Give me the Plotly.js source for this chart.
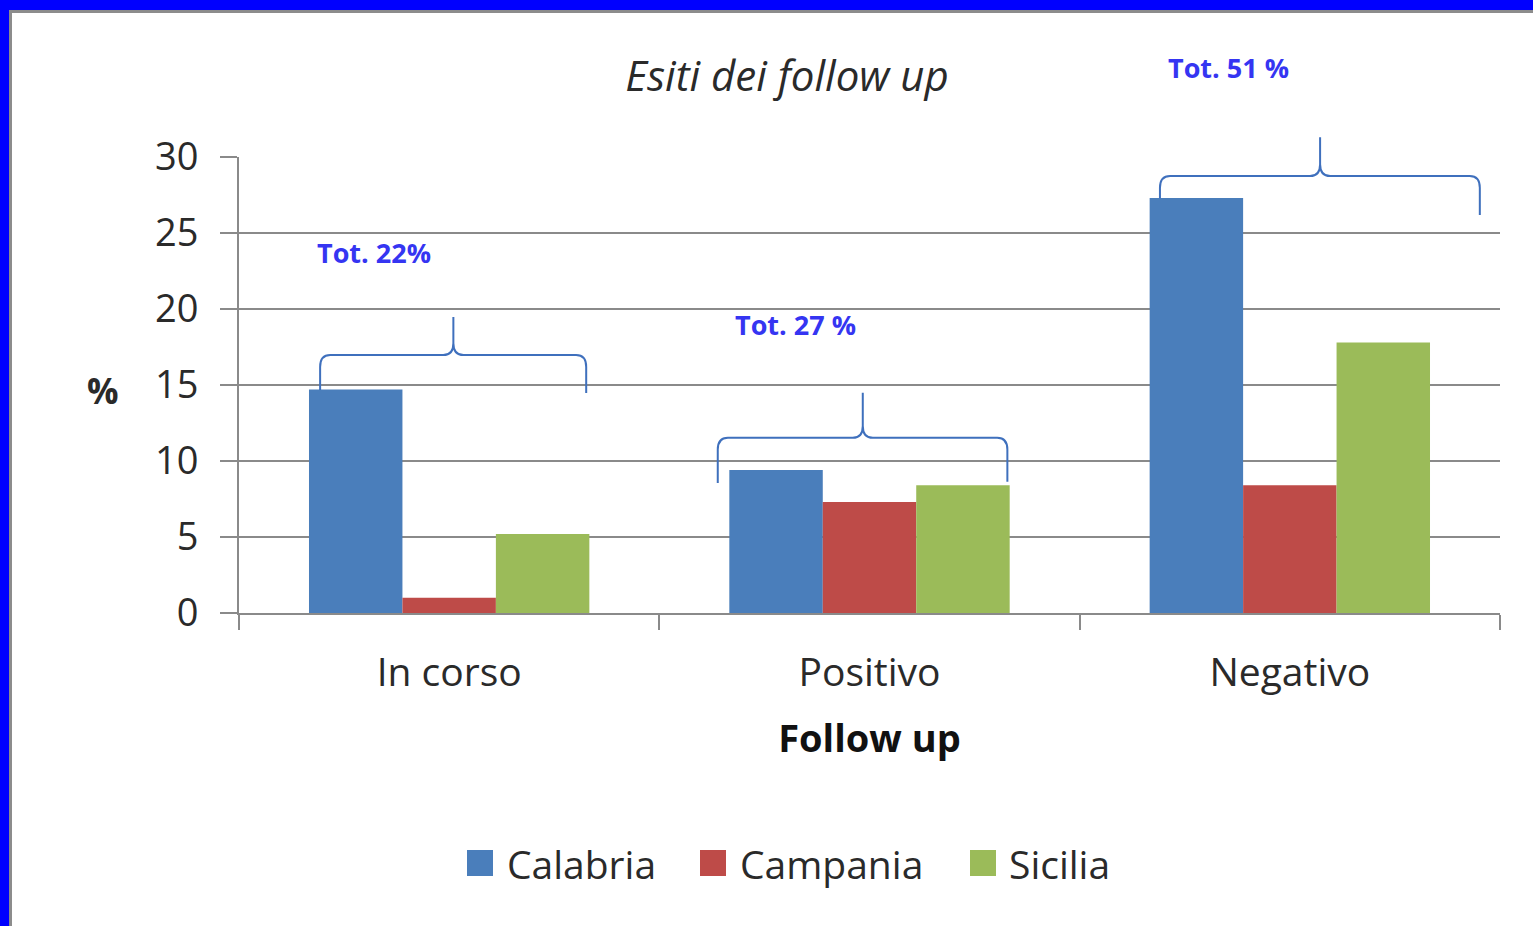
<!DOCTYPE html>
<html><head><meta charset="utf-8">
<script src="https://cdn.plot.ly/plotly-3.0.1.min.js"></script>
<style>
html,body{margin:0;padding:0;background:#fff;overflow:hidden}
#chart{width:1533px;height:926px;position:absolute;left:0;top:0}
.fr{position:absolute;pointer-events:none}
</style></head><body>
<div id="chart"></div>
<div class="fr" style="left:0;top:0;width:1533px;height:10px;background:#0000ff"></div>
<div class="fr" style="left:0;top:0;width:9px;height:926px;background:#0000ff"></div>
<div class="fr" style="left:9px;top:10px;width:1524px;height:3px;background:#8c8c8c"></div>
<div class="fr" style="left:9px;top:10px;width:3px;height:916px;background:#8c8c8c"></div>
<script>
// ---- data ----
const categories = ['In corso', 'Positivo', 'Negativo'];
const regions = ['Calabria', 'Campania', 'Sicilia'];
const calabria = [14.7, 9.4, 27.3];
const campania = [1.0, 7.3, 8.4];
const sicilia = [5.2, 8.4, 17.8];
const yTicks = [0, 5, 10, 15, 20, 25, 30];
const totals = ['Tot. 22%', 'Tot. 27 %', 'Tot. 51 %'];

// ---- style ----
const colors = ['#4a7ebb', '#be4b48', '#9bbb59'];
const FONT = 'Open Sans, Lato, sans-serif';
const TXT = '#2a2a2a';
const GRID = '#8a8a8a';
const BRACE = '#3f70bd';
const TOTC = '#3535f2';

// plot area in pixels
const W = 1533, H = 926, L = 239, R = 33, T = 157, B = 313;
const PW = W - L - R, PH = H - T - B;
const pxX = p => (p - L) / PW;
const pxY = p => (H - B - p) / PH;
// category / value -> paper
const cX = (i, d) => (i + d + 0.5) / categories.length;
const vY = v => v / 30;

// brace geometry (offsets from category centre, value units)
const braces = [
  {xl: -0.307, xr: 0.326, xt: 0.010, yl: 14.67, yr: 14.47, yh: 16.97, yt: 19.47},
  {xl: -0.361, xr: 0.328, xt: -0.016, yl: 8.55, yr: 8.63, yh: 11.53, yt: 14.49},
  {xl: -0.309, xr: 0.452, xt: 0.072, yl: 27.28, yr: 26.18, yh: 28.75, yt: 31.3}
];
const totPos = [
  {dx: -0.179, y: 23.75},
  {dx: -0.176, y: 18.95},
  {dx: -0.145, y: 35.86}
];

function bracePath(i, b) {
  const rx = 0.008, ry = 0.026;
  const xl = cX(i, b.xl), xr = cX(i, b.xr), xt = cX(i, b.xt);
  const yl = vY(b.yl), yr = vY(b.yr), yh = vY(b.yh), yt = vY(b.yt);
  return `M${xl},${yl} L${xl},${yh - ry} Q${xl},${yh} ${xl + rx},${yh} ` +
         `L${xt - rx},${yh} Q${xt},${yh} ${xt},${yh + ry} L${xt},${yt} ` +
         `M${xt},${yh + ry} Q${xt},${yh} ${xt + rx},${yh} ` +
         `L${xr - rx},${yh} Q${xr},${yh} ${xr},${yh - ry} L${xr},${yr}`;
}

const series = [calabria, campania, sicilia];
const traces = regions.map((name, k) => ({
  type: 'bar', name: name, x: categories, y: series[k],
  marker: {color: colors[k], line: {width: 0}},
  showlegend: false, hoverinfo: 'x+y+name'
}));

const shapes = [];
const annotations = [];
braces.forEach((b, i) => shapes.push({
  type: 'path', xref: 'paper', yref: 'paper', path: bracePath(i, b),
  line: {color: BRACE, width: 2}
}));
totals.forEach((t, i) => annotations.push({
  xref: 'paper', yref: 'paper', x: cX(i, totPos[i].dx), y: vY(totPos[i].y),
  text: t, showarrow: false, xanchor: 'center', yanchor: 'middle',
  font: {family: FONT, size: 27, color: TOTC, weight: 'bold'}
}));
// y-axis label "%"
annotations.push({
  xref: 'paper', yref: 'paper', x: pxX(103), y: pxY(390), text: '%', showarrow: false,
  xanchor: 'center', yanchor: 'middle', font: {family: FONT, size: 35, color: TXT, weight: 'bold'}
});
// manual legend
const swLeft = [467, 700, 970];
const txLeft = [505, 738, 1007];
regions.forEach((name, k) => {
  shapes.push({type: 'rect', xref: 'paper', yref: 'paper',
    x0: pxX(swLeft[k]), x1: pxX(swLeft[k] + 26), y0: pxY(876), y1: pxY(850),
    fillcolor: colors[k], line: {width: 0}});
  annotations.push({xref: 'paper', yref: 'paper', x: pxX(txLeft[k]), y: pxY(863),
    text: name, showarrow: false, xanchor: 'left', yanchor: 'middle',
    font: {family: FONT, size: 39, color: TXT}});
});

const layout = {
  width: W, height: H,
  margin: {l: L, r: R, t: T, b: B, pad: 0},
  paper_bgcolor: '#ffffff', plot_bgcolor: '#ffffff',
  font: {family: FONT, color: TXT},
  title: {text: 'Esiti dei follow up', xref: 'container', yref: 'container',
    x: 787 / W, y: 1 - 76 / H, xanchor: 'center', yanchor: 'middle',
    font: {family: FONT, size: 42, style: 'italic', color: TXT}},
  barmode: 'group', bargap: 0.333, bargroupgap: 0,
  showlegend: false,
  xaxis: {
    type: 'category', tickson: 'boundaries', ticks: 'outside', ticklen: 15,
    tickwidth: 2, tickcolor: GRID, showline: true, linecolor: GRID, linewidth: 2,
    showgrid: false, zeroline: false, automargin: false,
    tickfont: {family: FONT, size: 39, color: TXT}, ticklabelstandoff: 24,
    title: {text: 'Follow up', standoff: 30,
      font: {family: FONT, size: 38, color: '#111', weight: 'bold'}}
  },
  yaxis: {
    range: [0, 30], tickvals: yTicks, ticktext: yTicks.map(String),
    ticks: 'outside', ticklen: 17, tickwidth: 2, tickcolor: GRID,
    showline: true, linecolor: GRID, linewidth: 2,
    showgrid: true, gridcolor: GRID, gridwidth: 2, zeroline: false, automargin: false,
    tickfont: {family: FONT, size: 38, color: TXT}, ticklabelstandoff: 14
  },
  shapes: shapes, annotations: annotations
};

Plotly.newPlot('chart', traces, layout, {displayModeBar: false, staticPlot: true});
</script>
</body></html>
